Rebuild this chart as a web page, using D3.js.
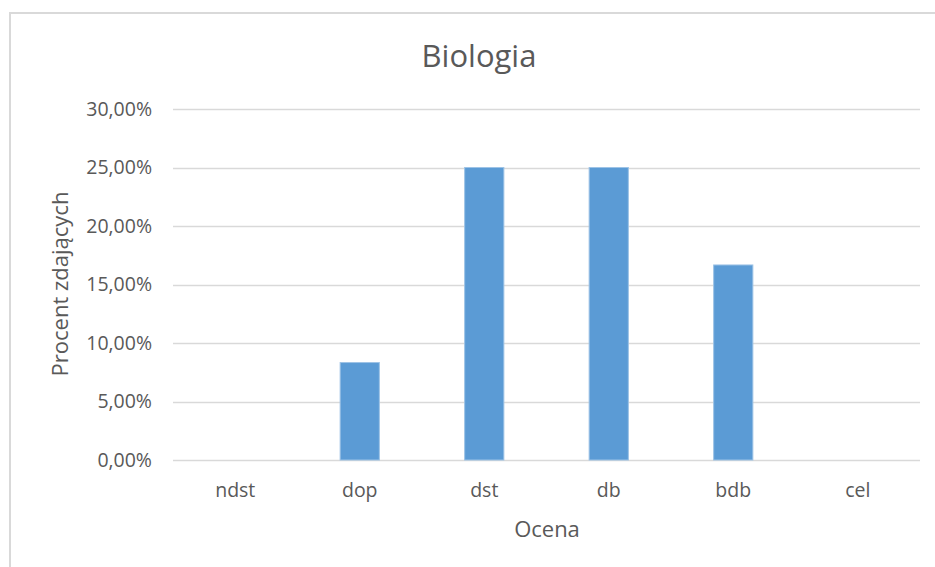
<!DOCTYPE html>
<html>
<head>
<meta charset="utf-8">
<script src="https://cdn.jsdelivr.net/npm/d3@7"></script>
<style>
  body { margin: 0; background: #fff; }
  text { font-family: "Open Sans", sans-serif; fill: #595959; }
</style>
</head>
<body>
<svg id="chart" width="935" height="567"></svg>
<script>
var categories = ["ndst", "dop", "dst", "db", "bdb", "cel"];
var values     = [0, 0.0833, 0.25, 0.25, 0.1667, 0];
var yTicks     = [0, 0.05, 0.10, 0.15, 0.20, 0.25, 0.30];

var svg = d3.select("#chart");

// chart border (runs past the picture on the right and bottom)
svg.append("rect")
    .attr("x", 10)
    .attr("y", 13)
    .attr("width", 940)
    .attr("height", 600)
    .attr("fill", "none")
    .attr("stroke", "#d9d9d9")
    .attr("stroke-width", 2);

var plotLeft = 173, plotRight = 920, plotTop = 109, plotBottom = 460;

var x = d3.scaleBand()
    .domain(categories)
    .range([plotLeft, plotRight])
    .paddingInner(0.685)
    .paddingOuter(0.3425);

var y = d3.scaleLinear()
    .domain([0, 0.30])
    .range([plotBottom, plotTop]);

var fmt = function(d) { return d3.format(".2f")(d * 100).replace(".", ",") + "%"; };

// gridlines
svg.append("g")
    .selectAll("line")
    .data(yTicks)
    .enter().append("line")
        .attr("x1", plotLeft)
        .attr("x2", plotRight)
        .attr("y1", function(d) { return Math.round(y(d)) + 0.5; })
        .attr("y2", function(d) { return Math.round(y(d)) + 0.5; })
        .attr("stroke", "#d9d9d9")
        .attr("stroke-width", 1.3);

// y tick labels
svg.append("g")
    .selectAll("text")
    .data(yTicks)
    .enter().append("text")
        .attr("x", 152)
        .attr("y", function(d) { return y(d); })
        .attr("dy", "0.35em")
        .attr("text-anchor", "end")
        .style("font-size", "19.5px")
        .text(fmt);

// bars
svg.append("g")
    .selectAll("rect")
    .data(values)
    .enter().append("rect")
        .attr("x", function(d, i) { return x(categories[i]); })
        .attr("y", function(d) { return y(d); })
        .attr("width", x.bandwidth())
        .attr("height", function(d) { return plotBottom - y(d); })
        .attr("fill", "#5b9bd5")
        .attr("stroke", "#9dc3e6")
        .attr("stroke-width", 1)
        .style("display", function(d) { return d > 0 ? null : "none"; });

// x tick labels
var xc = d3.scalePoint().domain(categories).range([plotLeft, plotRight]).padding(0.5);
svg.append("g")
    .selectAll("text")
    .data(categories)
    .enter().append("text")
        .attr("x", function(d) { return xc(d); })
        .attr("y", 497)
        .attr("text-anchor", "middle")
        .style("font-size", "19.5px")
        .text(function(d) { return d; });

// titles
svg.append("text")
    .attr("x", 479)
    .attr("y", 67)
    .attr("text-anchor", "middle")
    .style("font-size", "31px")
    .text("Biologia");

svg.append("text")
    .attr("x", 547)
    .attr("y", 537)
    .attr("text-anchor", "middle")
    .style("font-size", "22px")
    .text("Ocena");

svg.append("text")
    .attr("transform", "translate(68,284) rotate(-90)")
    .attr("text-anchor", "middle")
    .style("font-size", "22px")
    .text("Procent zdających");
</script>
</body>
</html>
